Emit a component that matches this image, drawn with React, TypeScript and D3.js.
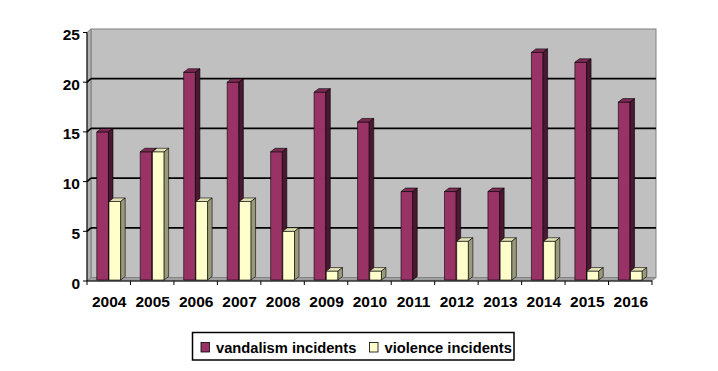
import React from "react";
import * as d3 from "d3";

const years = ["2004", "2005", "2006", "2007", "2008", "2009", "2010", "2011", "2012", "2013", "2014", "2015", "2016"];
const vandalism = [15, 13, 21, 20, 13, 19, 16, 9, 9, 9, 23, 22, 18];
const violence = [8, 13, 8, 8, 5, 1, 1, 0, 4, 4, 4, 1, 1];
const yTicks = [0, 5, 10, 15, 20, 25];
const seriesNames = ["vandalism incidents", "violence incidents"];

const palette = [
  { front: "#993366", top: "#7d2a54", side: "#4a1830" },
  { front: "#ffffcc", top: "#e2e2b4", side: "#9a9a7a" },
];

const font = "'Liberation Sans', Arial, sans-serif";

const App = () => {
  const width = 718;
  const height = 371;
  const left = 87;
  const right = 652;
  const dx = 4;
  const dy = -3.5;

  const y = d3.scaleLinear().domain([0, 25]).range([281, 32.5]);
  const x = d3.scaleBand().domain(years).range([left, right]).paddingInner(0.45).paddingOuter(0.225);
  const sub = d3.scaleBand().domain(["0", "1"]).range([0, x.bandwidth()]).paddingInner(0.04);
  const step = x.step();
  const bd = { dx: 4.5, dy: -3.5 };

  const bar = (x0: number, v: number, k: number, key: string) => {
    if (v <= 0) return null;
    const bw = sub.bandwidth();
    const yt = y(v);
    const y0 = y(0) - 1;
    const c = palette[k];
    return (
      <g key={key} stroke="#000" strokeWidth={0.6} strokeLinejoin="round">
        <rect x={x0} y={yt} width={bw} height={y0 - yt} fill={c.front} />
        <polygon
          points={`${x0},${yt} ${x0 + bd.dx},${yt + bd.dy} ${x0 + bw + bd.dx},${yt + bd.dy} ${x0 + bw},${yt}`}
          fill={c.top}
        />
        <polygon
          points={`${x0 + bw},${yt} ${x0 + bw + bd.dx},${yt + bd.dy} ${x0 + bw + bd.dx},${y0 + bd.dy} ${x0 + bw},${y0}`}
          fill={c.side}
        />
      </g>
    );
  };

  return (
    <svg width={width} height={height} style={{ position: "absolute", left: 0, top: 0 }}>
      <rect width={width} height={height} fill="#fff" />
      {/* walls */}
      <rect x={left + dx} y={y(25) + dy} width={right - left} height={y(0) - y(25)} fill="#c0c0c0" stroke="#808080" strokeWidth={1} />
      <polygon
        points={`${left},${y(25)} ${left + dx},${y(25) + dy} ${left + dx},${y(0) + dy} ${left},${y(0)}`}
        fill="#b0b0b0"
        stroke="#808080"
        strokeWidth={1}
      />
      <polygon
        points={`${left},${y(0)} ${left + dx},${y(0) + dy} ${right + dx},${y(0) + dy} ${right},${y(0)}`}
        fill="#a0a0a0"
        stroke="#808080"
        strokeWidth={0.8}
      />
      {/* gridlines */}
      {yTicks.slice(1, -1).map((t) => (
        <g key={t} stroke="#000" strokeWidth={1.7}>
          <line x1={left + dx} x2={right + dx} y1={y(t) + dy} y2={y(t) + dy} />
          <line x1={left} x2={left + dx} y1={y(t)} y2={y(t) + dy} />
        </g>
      ))}
      {/* bars */}
      {years.map((yr, i) => {
        const x0 = x(yr)!;
        return (
          <g key={yr}>
            {bar(x0 + sub("0")!, vandalism[i], 0, "a")}
            {bar(x0 + sub("1")!, violence[i], 1, "b")}
          </g>
        );
      })}
      {/* axes */}
      <line x1={left} x2={left} y1={y(25)} y2={y(0)} stroke="#000" strokeWidth={1} />
      <line x1={left} x2={right} y1={y(0)} y2={y(0)} stroke="#000" strokeWidth={1} />
      {yTicks.map((t) => (
        <g key={t}>
          <line x1={left - 4} x2={left} y1={y(t)} y2={y(t)} stroke="#000" />
          <text x={80} y={y(t) + 7.5} textAnchor="end" fontFamily={font} fontWeight="bold" fontSize={15.5}>
            {t}
          </text>
        </g>
      ))}
      {d3.range(years.length + 1).map((i) => (
        <line key={i} x1={left + i * step} x2={left + i * step} y1={y(0)} y2={y(0) + 4} stroke="#000" />
      ))}
      {years.map((yr) => (
        <text
          key={yr}
          x={x(yr)! + x.bandwidth() / 2 + 0.5}
          y={306.5}
          textAnchor="middle"
          fontFamily={font}
          fontWeight="bold"
          fontSize={15.5}
        >
          {yr}
        </text>
      ))}
      {/* legend */}
      <rect x={192.5} y={332.5} width={321.5} height={27.5} fill="#fff" stroke="#000" strokeWidth={1.5} />
      {seriesNames.map((name, k) => {
        const lx = k === 0 ? 201 : 369.5;
        return (
          <g key={name}>
            <rect x={lx} y={342.5} width={8.5} height={9.5} fill={palette[k].front} stroke="#000" strokeWidth={0.8} />
            <text x={lx + 15} y={353} fontFamily={font} fontWeight="bold" fontSize={14.7}>
              {name}
            </text>
          </g>
        );
      })}
    </svg>
  );
};

export default App;
